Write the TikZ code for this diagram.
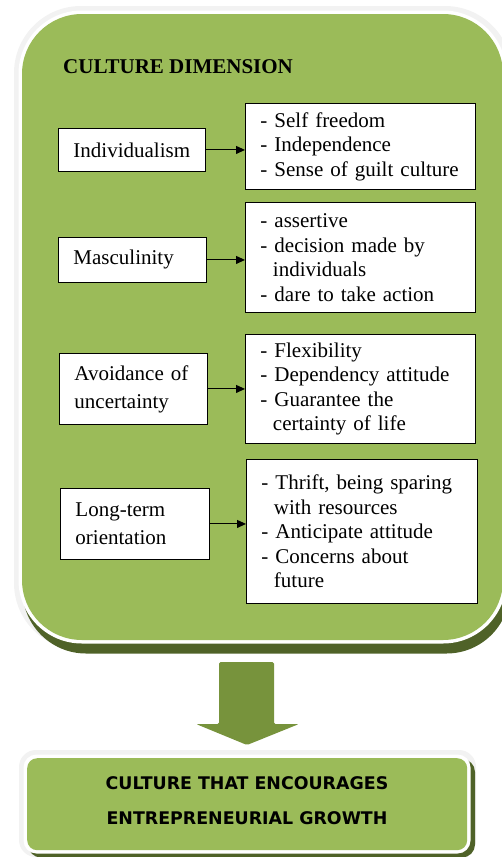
\documentclass[tikz,border=0pt]{standalone}
\usepackage{fontspec}
\setmainfont{Liberation Serif}
\newfontfamily\bsans{DejaVu Sans}
\usetikzlibrary{arrows.meta}
\definecolor{ogreen}{HTML}{9BBB59}
\definecolor{oshadow}{HTML}{4F6228}
\definecolor{oarrow}{HTML}{77933C}
\begin{document}
\begin{tikzpicture}[x=1pt,y=-1pt,
  leftbox/.style={draw=black, line width=0.9pt, fill=white, anchor=north west,
    inner xsep=15pt, inner ysep=0pt, align=left, font=\fontsize{21}{28}\selectfont},
  rightbox/.style={draw=black, line width=0.9pt, fill=white, anchor=north west,
    inner xsep=15pt, inner ysep=0pt, align=left, font=\fontsize{21}{24.5}\selectfont},
  link/.style={-{Triangle[length=9pt,width=8pt]}, line width=1pt}]
\useasboundingbox (0,0) rectangle (501,857);
% big rounded panel
\fill[black!5, rounded corners=67pt] (14,6) rectangle (512,650);
\fill[oshadow, rounded corners=63.5pt] (22.5,20) rectangle (510,653.5);
\fill[white, rounded corners=63.5pt] (18.5,10.5) rectangle (506.5,643.5);
\fill[ogreen, rounded corners=60pt] (22,14) rectangle (503,640);
\node[anchor=base west, inner sep=0pt, font=\fontsize{21}{25}\selectfont\bfseries] (title) at (63,73) {CULTURE DIMENSION};
% left boxes
\node[leftbox, text width=117pt, minimum height=43pt] (ind) at (58,128) {Individualism};
\node[leftbox, text width=118pt, minimum height=45pt] (mas) at (58,237) {Masculinity};
\node[leftbox, text width=118pt, minimum height=71pt] (avo) at (59,353) {Avoidance of\\uncertainty};
\node[leftbox, text width=119pt, minimum height=71pt] (lon) at (60,488) {Long-term\\orientation};
% right boxes
\node[rightbox, text width=200pt, minimum height=86pt] (r1) at (245,103)
  {- Self freedom\\- Independence\\- Sense of guilt culture};
\node[rightbox, text width=200pt, minimum height=110pt] (r2) at (245,202)
  {- assertive\\- decision made by\\\hspace*{12.5pt}individuals\\- dare to take action};
\node[rightbox, text width=200pt, minimum height=109pt] (r3) at (245,334)
  {- Flexibility\\- Dependency attitude\\- Guarantee the\\\hspace*{12.5pt}certainty of life};
\node[rightbox, text width=201pt, minimum height=144pt] (r4) at (246,459)
  {- Thrift, being sparing\\\hspace*{12.5pt}with resources\\- Anticipate attitude\\- Concerns about\\\hspace*{12.5pt}future};
% connectors
\draw[link] (ind.east) -- (ind.east -| r1.west);
\draw[link] (mas.east) -- (mas.east -| r2.west);
\draw[link] (avo.east) -- (avo.east -| r3.west);
\draw[link] (lon.east) -- (lon.east -| r4.west);
% big down arrow
\fill[oarrow, rounded corners=1.5pt] (219,662) -- (274,662) -- (274,724) -- (299,724) -- (247,745) -- (196,724) -- (219,724) -- cycle;
% bottom box
\fill[black!5, rounded corners=17pt] (19,750) rectangle (476,857);
\fill[oshadow, rounded corners=13pt] (28,759) rectangle (475,857.5);
\fill[white, rounded corners=13pt] (23.5,754.5) rectangle (470.5,853.5);
\node[fill=ogreen, rounded corners=10pt, minimum width=440pt, minimum height=92pt, anchor=north west, inner sep=0pt] (res) at (27,758) {};
\node[font=\bsans\bfseries\fontsize{17.4}{35}\selectfont, align=center, inner sep=0pt] (restext) at (247,801) {CULTURE THAT ENCOURAGES\\ENTREPRENEURIAL GROWTH};
\end{tikzpicture}
\end{document}
